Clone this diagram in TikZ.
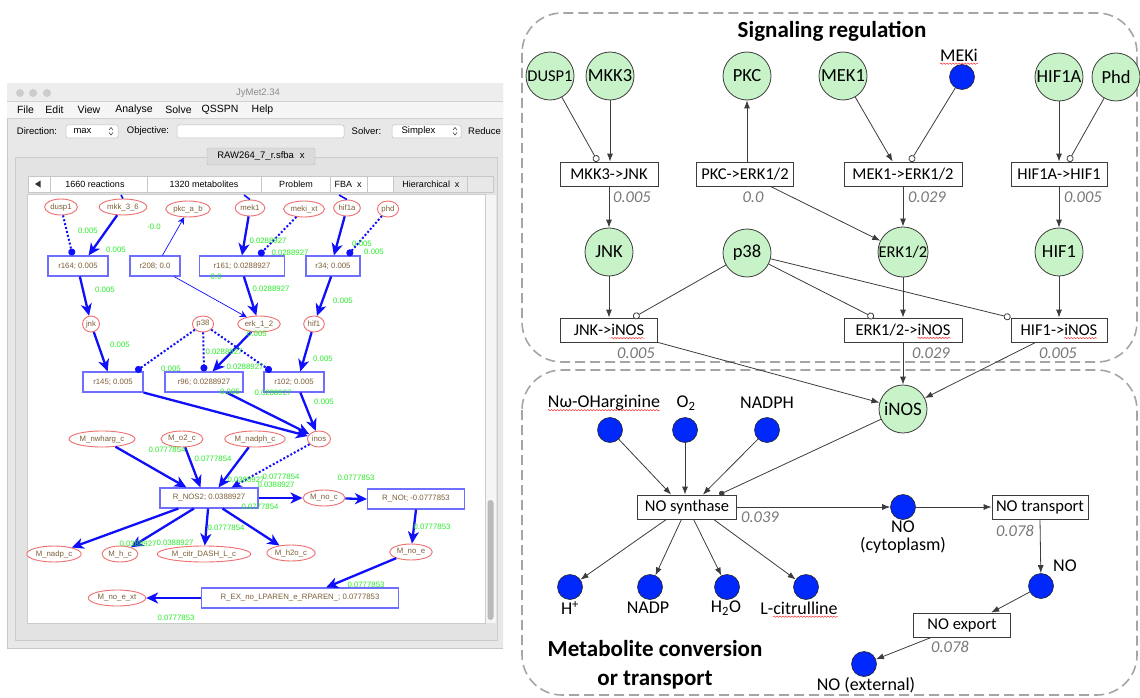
\documentclass[tikz,border=0pt]{standalone}
\usepackage{fontspec}
\setmainfont{Carlito}
\newfontfamily\lsans{Liberation Sans}
\usetikzlibrary{arrows.meta,shapes.geometric,decorations.pathmorphing,calc}
\newcommand\fsz[1]{\fontsize{#1}{#1}\selectfont}
\definecolor{gfill}{RGB}{200,243,200}
\definecolor{mblue}{RGB}{0,40,250}
\definecolor{dgray}{RGB}{60,60,60}
\definecolor{rategray}{RGB}{120,120,120}
\definecolor{boxgray}{RGB}{165,165,165}
\definecolor{lred}{RGB}{240,110,110}
\definecolor{lbrown}{RGB}{125,95,55}
\definecolor{lrectc}{RGB}{110,110,255}
\definecolor{ebl}{RGB}{15,15,250}
\definecolor{lgreen}{RGB}{40,235,40}
\tikzset{
 sig/.style={circle, draw=dgray, line width=0.8pt, fill=gfill, minimum size=48pt, inner sep=0pt, font=\fsz{18.5}},
 met/.style={circle, draw=black!85, line width=0.6pt, fill=mblue, minimum size=25pt, inner sep=0pt},
 rxn/.style={rectangle, draw=dgray, line width=0.8pt, fill=white, minimum height=24pt, inner xsep=3pt, inner ysep=0pt, font=\fsz{16.5}},
 rate/.style={font=\fsz{16.5}\itshape, text=rategray, inner sep=0pt},
 mlab/.style={font=\fsz{18}, inner sep=0pt},
 act/.style={draw=dgray, line width=0.8pt, -{Latex[length=8pt,width=6pt]}},
 inh/.style={draw=dgray, line width=0.8pt, -{Circle[open,length=7pt,width=7pt,fill=white]}},
 cat/.style={draw=dgray, line width=0.8pt, -{Circle[length=5.5pt,width=5.5pt]}},
 region/.style={draw=boxgray, line width=1.6pt, dash pattern=on 10pt off 5pt, rounded corners=40pt},
 ttl/.style={font=\fontsize{23}{29}\selectfont\bfseries, align=center, inner sep=0pt},
 squig/.style={draw=red!80, line width=0.5pt, decorate, decoration={snake, amplitude=0.7pt, segment length=3pt}},
 lell/.style={ellipse, draw=lred, line width=0.9pt, fill=white, text=lbrown, font=\lsans\fsz{7.8}, inner xsep=1pt, inner ysep=1pt, minimum height=16pt},
 lrect/.style={rectangle, draw=lrectc, line width=1.1pt, fill=white, text=lbrown, font=\lsans\fsz{7.8}, minimum height=20pt, inner sep=0pt},
 bth/.style={draw=ebl, line width=2.3pt, -{Stealth[length=12pt,width=11pt,inset=3.5pt]}},
 bthin/.style={draw=ebl, line width=0.7pt, -{Stealth[length=7pt,width=7pt,inset=2.5pt]}},
 bdot/.style={draw=ebl, line width=2pt, dash pattern=on 2pt off 2pt, -{Circle[length=7pt,width=7pt]}},
 gl/.style={text=lgreen, font=\lsans\fsz{7.8}, inner sep=0pt},
 wtxt/.style={font=\lsans\fsz{9.5}, inner sep=0pt},
 mtxt/.style={font=\lsans\fsz{10.5}, inner sep=0pt},
 ttxt/.style={font=\lsans\fsz{9}, inner sep=0pt},
 wfield/.style={draw=black!25, fill=white, rounded corners=2pt, line width=0.5pt},
}
\begin{document}
\begin{tikzpicture}[x=1pt,y=-1pt]
\useasboundingbox (0,0) rectangle (1140,698);

% ================= software window =================
\begin{scope}
\clip (0,0) rectangle (503,698);
\draw[draw=black!22, fill=black!9] (7,83) rectangle (540,648);
\fill[black!7] (7.4,83.4) rectangle (540,101);
\fill[black!4] (7.4,101) rectangle (540,118);
\draw[black!18, line width=0.5pt] (7.4,101) -- (540,101) (7.4,118) -- (540,118);
\node[circle, fill=black!20, minimum size=8pt, inner sep=0pt] (wd1) at (20,93) {};
\node[circle, fill=black!20, minimum size=8pt, inner sep=0pt] (wd2) at (33,93) {};
\node[circle, fill=black!20, minimum size=8pt, inner sep=0pt] (wd3) at (47,93) {};
\node[wtxt, text=black!45] (wtitle) at (258,93) {JyMet2.34};
\node[mtxt] (mFile) at (25.5,110) {File};
\node[mtxt] (mEdit) at (54.5,110) {Edit};
\node[mtxt] (mView) at (89,110) {View};
\node[mtxt] (mAnal) at (134,110) {Analyse};
\node[mtxt] (mSolve) at (178.5,110) {Solve};
\node[mtxt] (mQ) at (220,110) {QSSPN};
\node[mtxt] (mHelp) at (262.5,110) {Help};
% toolbar
\node[wtxt] (tDir) at (37,131) {Direction:};
\draw[wfield] (66,125) rectangle (118,138);
\node[wtxt] (tMax) at (82.5,131) {max};
\draw[black!70, line width=0.6pt] (109,130) -- (111,127.5) -- (113,130) (109,132.5) -- (111,135) -- (113,132.5);
\node[wtxt] (tObj) at (148,131) {Objective:};
\draw[wfield] (177,125) rectangle (344,138);
\node[wtxt] (tSolv) at (366.5,131) {Solver:};
\draw[wfield] (392,125) rectangle (461,138);
\node[wtxt] (tSimp) at (418.5,131) {Simplex};
\draw[black!70, line width=0.6pt] (453,130) -- (455,127.5) -- (457,130) (453,132.5) -- (455,135) -- (457,132.5);
\node[wtxt, anchor=west] (tRed) at (468,131) {Reduce r};
% inner panel
\draw[draw=black!20, fill=black!11] (15,157) rectangle (497,640);
\node[draw=black!28, fill=black!14, rounded corners=2pt, minimum width=108pt, minimum height=17pt, wtxt] (ftab) at (261,156.5) {RAW264\_7\_r.sfba\hspace{6pt}x};
\draw[draw=black!22, fill=white] (28,176) rectangle (493,192);
\fill[black!9] (393,176.5) rectangle (492.5,191.5);
\draw[black!22] (50,176) -- (50,192) (147,176) -- (147,192) (261,176) -- (261,192) (330,176) -- (330,192) (367,176) -- (367,192) (393,176) -- (393,192) (467,176) -- (467,192);
\fill[black!80] (35,184) -- (40.5,180.5) -- (40.5,187.5) -- cycle;
\node[ttxt] (tb1) at (95,184) {1660 reactions};
\node[ttxt] (tb2) at (204,184) {1320 metabolites};
\node[ttxt] (tb3) at (296,184) {Problem};
\node[ttxt] (tb4) at (348,184) {FBA\hspace{5pt}x};
\node[ttxt] (tb5) at (431,184) {Hierarchical\hspace{5pt}x};
% canvas
\draw[draw=black!20, fill=white] (27,194) rectangle (485,623);
\fill[black!4] (485.5,194.5) rectangle (496,622.5);
\fill[black!27, rounded corners=3pt] (487.5,500) rectangle (493.5,620);
\end{scope}

% ---- left network nodes ----
\node[lell] (dusp1) at (61,207) {dusp1};
\node[lell] (mkk) at (123,207) {mkk\_3\_6};
\node[lell] (pkc) at (188,209) {pkc\_a\_b};
\node[lell] (mek1) at (250,208) {mek1};
\node[lell] (meki) at (304,209) {meki\_xt};
\node[lell] (hif1a) at (347,208) {hif1a};
\node[lell] (phd) at (388,209) {phd};
\node[lrect, minimum width=60pt] (r164) at (78,266) {r164; 0.005};
\node[lrect, minimum width=50pt] (r208) at (155,266) {r208; 0.0};
\node[lrect, minimum width=85pt] (r161) at (242,266) {r161; 0.0288927};
\node[lrect, minimum width=54pt] (r34) at (333,266) {r34; 0.005};
\node[lell] (jnk) at (91,324) {jnk};
\node[lell] (p38) at (203,324) {p38};
\node[lell] (erk) at (259,324) {erk\_1\_2};
\node[lell] (hif1) at (314,324) {hif1};
\node[lrect, minimum width=60pt] (r145) at (113,382) {r145; 0.005};
\node[lrect, minimum width=78pt] (r96) at (204,382) {r96; 0.0288927};
\node[lrect, minimum width=60pt] (r102) at (294,382) {r102; 0.005};
\node[lell] (nwharg) at (102,439) {M\_nwharg\_c};
\node[lell] (o2) at (182,439) {M\_o2\_c};
\node[lell] (nadph) at (255,439) {M\_nadph\_c};
\node[lell] (inos) at (319,439) {inos};
\node[lrect, minimum width=98pt] (nos2) at (209,498) {R\_NOS2; 0.0388927};
\node[lell] (noc) at (324,498) {M\_no\_c};
\node[lrect, minimum width=97pt] (not) at (416,499) {R\_NOt; -0.0777853};
\node[lell] (nadp) at (54,554) {M\_nadp\_c};
\node[lell] (hc) at (120,554) {M\_h\_c};
\node[lell] (citr) at (204,554) {M\_citr\_DASH\_L\_c};
\node[lell] (h2o) at (291,553) {M\_h2o\_c};
\node[lell] (noe) at (411,552) {M\_no\_e};
\node[lell] (noext) at (117,598) {M\_no\_e\_xt};
\node[lrect, minimum width=197pt] (rex) at (300,598) {R\_EX\_no\_LPAREN\_e\_RPAREN\_; 0.0777853};
\coordinate (stA) at (121,195);
\coordinate (stB) at (244,195);
\coordinate (stC) at (339,195);

% ---- left network edges ----
\draw[draw=ebl, line width=1.6pt] (stA) -- (mkk.north);
\draw[draw=ebl, line width=1.6pt] (stB) -- (mek1.north);
\draw[draw=ebl, line width=1.6pt] (stC) -- (hif1a.north);
\draw[bdot] (dusp1) -- (r164.117);
\draw[bth] (mkk) -- (r164.45);
\draw[bthin] (r208.55) -- (pkc.245);
\draw[bthin] (r208.-29) -- (erk);
\draw[bth] (mek1) -- (r161.north);
\draw[bdot] (meki) -- (r161.32);
\draw[bth] (hif1a) -- (r34.85);
\draw[bdot] (phd) -- (r34.36);
\draw[bth] (r164.-80) -- (jnk);
\draw[bth] (r161.-80) -- (erk);
\draw[bth] (r34.-100) -- (hif1);
\draw[bth] (jnk) -- (r145.117);
\draw[bdot] (p38) -- (r145.25);
\draw[bdot] (p38) -- (r96.north);
\draw[bdot] (p38) -- (r102.155);
\draw[bth] (erk) -- (r96.51);
\draw[bth] (hif1) -- (r102.59);
\draw[bth] (r145.south east) -- (inos);
\draw[bth] (r96.-25) -- (inos);
\draw[bth] (r102.-59) -- (inos);
\draw[bth] (nwharg) -- (nos2.155);
\draw[bth] (o2) -- (nos2.129);
\draw[bth] (nadph) -- (nos2.48);
\draw[bdot, -{Stealth[length=10pt,width=9pt,inset=3pt]}] (inos) -- (nos2.25);
\draw[bth] (nos2.east) -- (noc);
\draw[bth] (noc) -- (not.west);
\draw[bth] (not.south) -- (noe);
\draw[bth] (noe) -- (rex.22);
\draw[bth] (rex.west) -- (noext);
\draw[bth] (nos2.199) -- (nadp);
\draw[bth] (nos2.215) -- (hc);
\draw[bth] (nos2.-95) -- (citr);
\draw[bth] (nos2.-38) -- (h2o);

% ---- left green flux labels ----
\node[gl] (g1) at (88,231) {0.005};
\node[gl] (g2) at (116,250) {0.005};
\node[gl] (g3) at (154,227) {-0.0};
\node[gl] (g4) at (216,277) {0.0};
\node[gl] (g5) at (268,241) {0.0288927};
\node[gl] (g6) at (290,253) {0.0288927};
\node[gl] (g7) at (362,244) {0.005};
\node[gl] (g8) at (374,252) {0.005};
\node[gl] (g9) at (105,290) {0.005};
\node[gl] (g10) at (271,289) {0.0288927};
\node[gl] (g11) at (343,301) {0.005};
\node[gl] (g12) at (257,334) {0.005};
\node[gl] (g13) at (120,345) {0.005};
\node[gl] (g14) at (224,352) {0.0288927};
\node[gl] (g15) at (171,369) {0.005};
\node[gl] (g16) at (245,367) {0.0288927};
\node[gl] (g17) at (323,359) {0.005};
\node[gl] (g18) at (230,392) {0.005};
\node[gl] (g19) at (273,393) {0.0288927};
\node[gl] (g20) at (324,402) {0.005};
\node[gl] (g21) at (167,450) {0.0777854};
\node[gl] (g22) at (213,459) {0.0777854};
\node[gl] (g23) at (246,480) {0.0388927};
\node[gl] (g24) at (281,477) {0.0777854};
\node[gl] (g25) at (276,485) {0.0388927};
\node[gl] (g26) at (356,478) {0.0777853};
\node[gl] (g27) at (260,507) {0.0777854};
\node[gl] (g28) at (226,528) {0.0777854};
\node[gl] (g29) at (138,544) {0.0388927};
\node[gl] (g30) at (175,543) {0.0388927};
\node[gl] (g31) at (432,527) {0.0777853};
\node[gl] (g32) at (366,585) {0.0777853};
\node[gl] (g33) at (176,618) {0.0777853};

% ================= right schematic =================
\draw[region] (522,13) rectangle (1137,362);
\draw[region] (522,370) rectangle (1137,695);
\node[ttl] (tsig) at (832,31) {Signaling regulation};
\node[ttl] (tmet) at (655,665) {Metabolite conversion\\or transport};

\node[sig, font=\fsz{16.5}] (DUSP1) at (550,76) {DUSP1};
\node[sig] (MKK3) at (610,76) {MKK3};
\node[sig] (PKC) at (747,76) {PKC};
\node[sig] (MEK1) at (843,76) {MEK1};
\node[met] (MEKi) at (962,77) {};
\node[sig] (HIF1A) at (1059,77) {HIF1A};
\node[sig] (Phd) at (1116,77) {Phd};
\node[rxn, minimum width=98pt] (mkkjnk) at (609,174) {MKK3->JNK};
\node[rxn, minimum width=97pt] (pkcerk) at (745,174) {PKC->ERK1/2};
\node[rxn, minimum width=118pt] (mekerk) at (903,174) {MEK1->ERK1/2};
\node[rxn, minimum width=96pt] (hifhif) at (1059,174) {HIF1A->HIF1};
\node[sig] (JNK) at (609,252) {JNK};
\node[sig] (p38n) at (747,253) {p38};
\node[sig, font=\fsz{16.5}] (ERK) at (903,252) {ERK1/2};
\node[sig] (HIF1) at (1059,252) {HIF1};
\node[rxn, minimum width=97pt] (jnkinos) at (609,330) {JNK->iNOS};
\node[rxn, minimum width=118pt] (erkinos) at (903,330) {ERK1/2->iNOS};
\node[rxn, minimum width=96pt] (hifinos) at (1059,330) {HIF1->iNOS};
\node[sig, font=\fsz{19}] (iNOS) at (903,409) {iNOS};
\node[met] (Nw) at (610,430) {};
\node[met] (O2) at (685,430) {};
\node[met] (NADPH) at (767,430) {};
\node[rxn, minimum width=99pt] (nosyn) at (687,507) {NO synthase};
\node[met] (Hp) at (570,587) {};
\node[met] (NADP) at (650,587) {};
\node[met] (H2O) at (727,587) {};
\node[met] (Lcit) at (806,587) {};
\node[met] (NOc) at (903,507) {};
\node[rxn, minimum width=96pt] (notr) at (1040,507) {NO transport};
\node[met] (NOe) at (1041,586) {};
\node[rxn, minimum width=97pt] (noexp) at (962,625) {NO export};
\node[met] (NOx) at (864,664) {};

% labels
\node[mlab] (lMEKi) at (959,55) {MEKi};
\node[mlab] (lNw) at (604,403) {Nω-OHarginine};
\node[mlab] (lO2) at (686,403) {O\textsubscript{2}};
\node[mlab] (lNADPH) at (767,403) {NADPH};
\node[mlab] (lH) at (570,608) {H\textsuperscript{+}};
\node[mlab] (lNADP) at (648,608) {NADP};
\node[mlab] (lH2O) at (726,608) {H\textsubscript{2}O};
\node[mlab] (lLcit) at (799,608) {L-citrulline};
\node[mlab, align=center, font=\fontsize{18}{18.5}\selectfont] (lNOc) at (903,537) {NO\\(cytoplasm)};
\node[mlab] (lNOe) at (1065,566) {NO};
\node[mlab] (lNOx) at (866,685) {NO (external)};

% rates
\node[rate] (q1) at (632,197) {0.005};
\node[rate] (q2) at (753,197) {0.0};
\node[rate] (q3) at (927,197) {0.029};
\node[rate] (q4) at (1083,197) {0.005};
\node[rate] (q5) at (636,353) {0.005};
\node[rate] (q6) at (931,353) {0.029};
\node[rate] (q7) at (1058,353) {0.005};
\node[rate] (q8) at (760,517) {0.039};
\node[rate] (q9) at (1015,531) {0.078};
\node[rate] (q10) at (950,647) {0.078};

% spelling squiggles
\draw[squig] ($(lMEKi.base west)+(0,2.5)$) -- ($(lMEKi.base east)+(0,2.5)$);
\draw[squig] ($(lNw.base west)+(0,2.5)$) -- ($(lNw.base east)+(0,2.5)$);
\draw[squig] ($(lLcit.base west)+(13,2.5)$) -- ($(lLcit.base east)+(0,2.5)$);
\draw[squig] ($(jnkinos.base)+(2,2.5)$) -- ($(jnkinos.base)+(35,2.5)$);
\draw[squig] ($(erkinos.base)+(14.6,2.5)$) -- ($(erkinos.base)+(47.5,2.5)$);
\draw[squig] ($(hifinos.base)+(5.3,2.5)$) -- ($(hifinos.base)+(38.2,2.5)$);

% edges
\draw[inh] (DUSP1) -- (mkkjnk.132);
\draw[act] (MKK3) -- (MKK3 |- mkkjnk.north);
\draw[act] (PKC |- pkcerk.north) -- (PKC);
\draw[act] (pkcerk.-26) -- (ERK);
\draw[act] (MEK1) -- (mekerk.130);
\draw[inh] (MEKi) -- (mekerk.60);
\draw[act] (HIF1A) -- (hifhif.north);
\draw[inh] (Phd) -- (hifhif.53);
\draw[act] (mkkjnk.south) -- (JNK);
\draw[act] (mekerk.south) -- (ERK);
\draw[act] (hifhif.south) -- (HIF1);
\draw[act] (JNK) -- (jnkinos.north);
\draw[inh] (p38n) -- (jnkinos.27);
\draw[inh] (p38n) -- (erkinos.157);
\draw[inh] (p38n) -- (hifinos.north west);
\draw[act] (ERK) -- (erkinos.north);
\draw[act] (HIF1) -- (hifinos.north);
\draw[act] (jnkinos.south east) -- (iNOS);
\draw[act] (erkinos.south) -- (iNOS);
\draw[act] (hifinos.208) -- (iNOS);
\draw[act] (Nw) -- (nosyn.142);
\draw[act] (O2) -- (O2 |- nosyn.north);
\draw[act] (NADPH) -- (nosyn.38);
\draw[cat] (iNOS) -- (nosyn.21);
\draw[act] (nosyn.east) -- (NOc);
\draw[act] (NOc) -- (notr.west);
\draw[act] (notr.south) -- (NOe);
\draw[act] (NOe) -- (noexp.23);
\draw[act] (noexp.202) -- (NOx);
\draw[act] (nosyn.211) -- (Hp);
\draw[act] (nosyn.246) -- (NADP);
\draw[act] (nosyn.-62) -- (H2O);
\draw[act] (nosyn.-25) -- (Lcit);
\end{tikzpicture}
\end{document}
